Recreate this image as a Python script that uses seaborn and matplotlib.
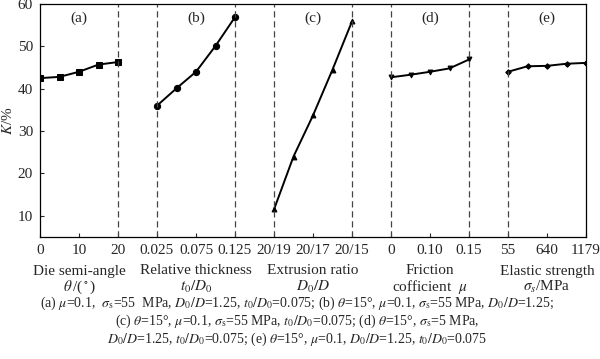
import numpy as np
import pandas as pd
import matplotlib
matplotlib.use("Agg")
import matplotlib.pyplot as plt
import seaborn as sns

# K (%), five levels per parameter
k_theta = [42.5, 42.8, 44.0, 45.7, 46.3]        # (a) die semi-angle 0..20
k_thick = [36.0, 40.1, 44.0, 50.1, 56.9]        # (b) t0/D0 0.025..0.125
k_ratio = [11.5, 24.0, 33.7, 44.5, 55.9]        # (c) D0/D 20/19..20/15
k_mu = [42.7, 43.3, 44.0, 44.8, 46.9]           # (d) friction 0..0.15
k_sigma = [44.0, 45.3, 45.4, 45.9, 46.1]        # (e) elastic strength 55..1179

panels = ["(a)", "(b)", "(c)", "(d)", "(e)"]
series = [k_theta, k_thick, k_ratio, k_mu, k_sigma]
markers = ["s", "o", "^", "v", "D"]
marker_sizes = [4.5, 4.5, 3.5, 3.5, 2.8]

# tick labels sit at the start, middle and end of each segment
tick_labels = [
    ["0", "10", "20"],
    ["0.025", "0.075", "0.125"],
    ["20/19", "20/17", "20/15"],
    ["0", "0.10", "0.15"],
    ["55", "640", "1179"],
]
names_top = ["Die semi-angle", "Relative thickness", "Extrusion ratio",
             "Friction", "Elastic strength"]
names_bottom = [r"$\theta\,$/($^\circ$)", r"$t_0/D_0$", r"$D_0/D$",
                r"cofficient  $\mu$", r"$\sigma_s$/MPa"]

caption = [
    r"(a) $\mu$=0.1,  $\sigma_{\rm s}$=55  MPa, $D_0/D$=1.25, $t_0/D_0$=0.075; "
    r"(b) $\theta$=15°, $\mu$=0.1, $\sigma_{\rm s}$=55 MPa, $D_0/D$=1.25;",
    r"(c) $\theta$=15°, $\mu$=0.1, $\sigma_{\rm s}$=55 MPa, $t_0/D_0$=0.075; "
    r"(d) $\theta$=15°, $\sigma_{\rm s}$=5 MPa,",
    r"$D_0/D$=1.25, $t_0/D_0$=0.075; (e) $\theta$=15°, $\mu$=0.1, "
    r"$D_0/D$=1.25, $t_0/D_0$=0.075",
]

sns.set_theme(style="ticks")
plt.rcParams["font.family"] = ["Liberation Serif", "DejaVu Serif"]
plt.rcParams["mathtext.fontset"] = "stix"
plt.rcParams["xtick.direction"] = "in"
plt.rcParams["ytick.direction"] = "in"

# each parameter gets a 2-unit wide segment, 1-unit gap between segments
seg_width, seg_step = 2, 3

rows = []
for i, vals in enumerate(series):
    for j, v in enumerate(vals):
        rows.append({"panel": panels[i], "level": j, "K": v,
                     "x": i * seg_step + j * seg_width / (len(vals) - 1)})
df = pd.DataFrame(rows)

fig = plt.figure(figsize=(6.0, 3.59), dpi=100)
ax = fig.add_axes([40 / 600, 1 - 237 / 359, 546 / 600, 233 / 359])

for i, p in enumerate(panels):
    sub = df[df["panel"] == p]
    sns.lineplot(data=sub, x="x", y="K", color="black", linewidth=1.4,
                 marker=markers[i], markersize=marker_sizes[i],
                 markeredgecolor="black", ax=ax)
    ax.text(i * seg_step + 1, 58.3, p, ha="center", va="top", fontsize=11)

for b in range(1, 5):
    for xv in (b * seg_step - 1, b * seg_step):
        ax.axvline(xv, color="#444444", linestyle=(0, (5, 3)), linewidth=0.9)

ticks, labels = [], []
for i in range(5):
    for f, lab in enumerate(tick_labels[i]):
        ticks.append(i * seg_step + f)
        labels.append(lab)
ax.set_xticks(ticks)
ax.set_xticklabels(labels, fontsize=11)
ax.set_xlim(0, 14)
ax.set_ylim(5, 60)
ax.set_yticks([10, 20, 30, 40, 50, 60])
ax.tick_params(axis="both", labelsize=11, length=3, width=0.8, pad=5)
ax.set_xlabel("")
ax.set_ylabel(r"$K$/%", fontsize=11, labelpad=2)
for s in ax.spines.values():
    s.set_visible(True)
    s.set_linewidth(0.9)
    s.set_color("black")

for i in range(5):
    xf = (40 + (i * seg_step + 1) * 39) / 600
    fig.text(xf, 1 - 271 / 359, names_top[i], ha="center", va="center", fontsize=11)
    fig.text(xf, 1 - 287 / 359, names_bottom[i], ha="center", va="center", fontsize=11)

for k, line in enumerate(caption):
    fig.text(0.495, 1 - (303 + 18 * k) / 359, line, ha="center", va="center", fontsize=10)

fig.savefig("out.png", dpi=100)
